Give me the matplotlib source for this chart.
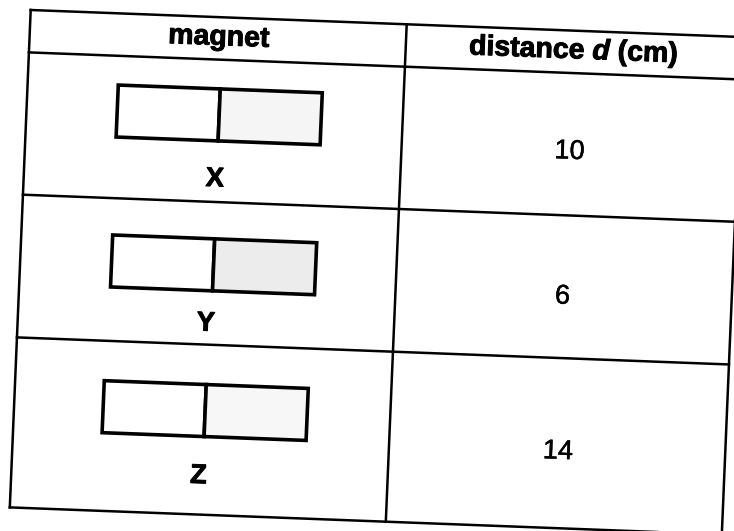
import matplotlib
matplotlib.use("Agg")
import matplotlib.pyplot as plt
from matplotlib.transforms import Affine2D
from matplotlib.patches import Rectangle
import matplotlib.patheffects as pe

# ---- data ----
col_headers = ["magnet", "distance $d$ (cm)"]
magnets = ["X", "Y", "Z"]
distances = [10, 6, 14]

# ---- layout (table frame: u to the right, v downward, pixels) ----
col_edges = [0, 376, 712]
row_edges = [0, 42.4, 184.7, 327.4, 497.4]
box_u = [90.6, 91.3, 89.0]
box_v = [71.6, 221.5, 367.3]
box_w, box_h = 204, 52
label_v = [169.0, 313.5, 466.0]   # baselines of X/Y/Z
label_u = [191, 188, 187]
num_v = [128.0, 273.0, 428.0]     # baselines of numbers
num_u = [544, 543, 545]
stipple = ['#f5f5f5', '#ececec', '#f7f7f7']

plt.rcParams['font.family'] = ['Liberation Sans', 'DejaVu Sans']
plt.rcParams['mathtext.fontset'] = 'custom'
plt.rcParams['mathtext.it'] = 'Liberation Sans:bold:italic'
plt.rcParams['mathtext.rm'] = 'Liberation Sans:bold'

fig = plt.figure(figsize=(7.34, 5.31), dpi=100)
ax = fig.add_axes([0, 0, 1, 1])
ax.set_xlim(0, 734)
ax.set_ylim(531, 0)
ax.axis('off')

# slightly skewed scan: table frame -> image pixels
tr = Affine2D(matrix=[[1.0, -0.042, 30.7],
                      [0.038, 1.0, 10.0],
                      [0.0, 0.0, 1.0]]) + ax.transData
rot = -2.15
heavy = [pe.withStroke(linewidth=0.7, foreground='black')]
light = [pe.withStroke(linewidth=0.35, foreground='black')]

lw = 1.8
# horizontal rules
for v in row_edges:
    ax.plot([col_edges[0], col_edges[-1]], [v, v], color='black', lw=lw,
            transform=tr, solid_capstyle='projecting')
# vertical rules
for u in col_edges:
    ax.plot([u, u], [row_edges[0], row_edges[-1]], color='black', lw=lw,
            transform=tr, solid_capstyle='projecting')

# headers
hdr_v = 27.8
ax.text((col_edges[0] + col_edges[1]) / 2 + 1, hdr_v, col_headers[0], transform=tr,
        rotation=rot, rotation_mode='anchor', ha='center', va='baseline',
        fontsize=20.5, fontweight='bold', color='black', path_effects=heavy)
ax.text((col_edges[1] + col_edges[2]) / 2, hdr_v, col_headers[1], transform=tr,
        rotation=rot, rotation_mode='anchor', ha='center', va='baseline',
        fontsize=20.5, fontweight='bold', color='black', path_effects=heavy)

for i, (name, d) in enumerate(zip(magnets, distances)):
    u0, v0 = box_u[i], box_v[i]
    # left (plain) half
    ax.add_patch(Rectangle((u0, v0), box_w / 2, box_h, transform=tr,
                           facecolor='white', edgecolor='black', lw=2.6,
                           joinstyle='miter'))
    # right (stippled) half
    ax.add_patch(Rectangle((u0 + box_w / 2, v0), box_w / 2, box_h, transform=tr,
                           facecolor=stipple[i], edgecolor='black', lw=2.6,
                           joinstyle='miter'))
    ax.text(label_u[i], label_v[i], name, transform=tr, rotation=rot,
            rotation_mode='anchor', ha='center', va='baseline',
            fontsize=19.5, fontweight='bold', color='black', path_effects=heavy)
    ax.text(num_u[i], num_v[i], str(d), transform=tr, rotation=rot,
            rotation_mode='anchor', ha='center', va='baseline',
            fontsize=19.5, color='black', path_effects=light)

fig.savefig("out.png", dpi=100, facecolor='white')
